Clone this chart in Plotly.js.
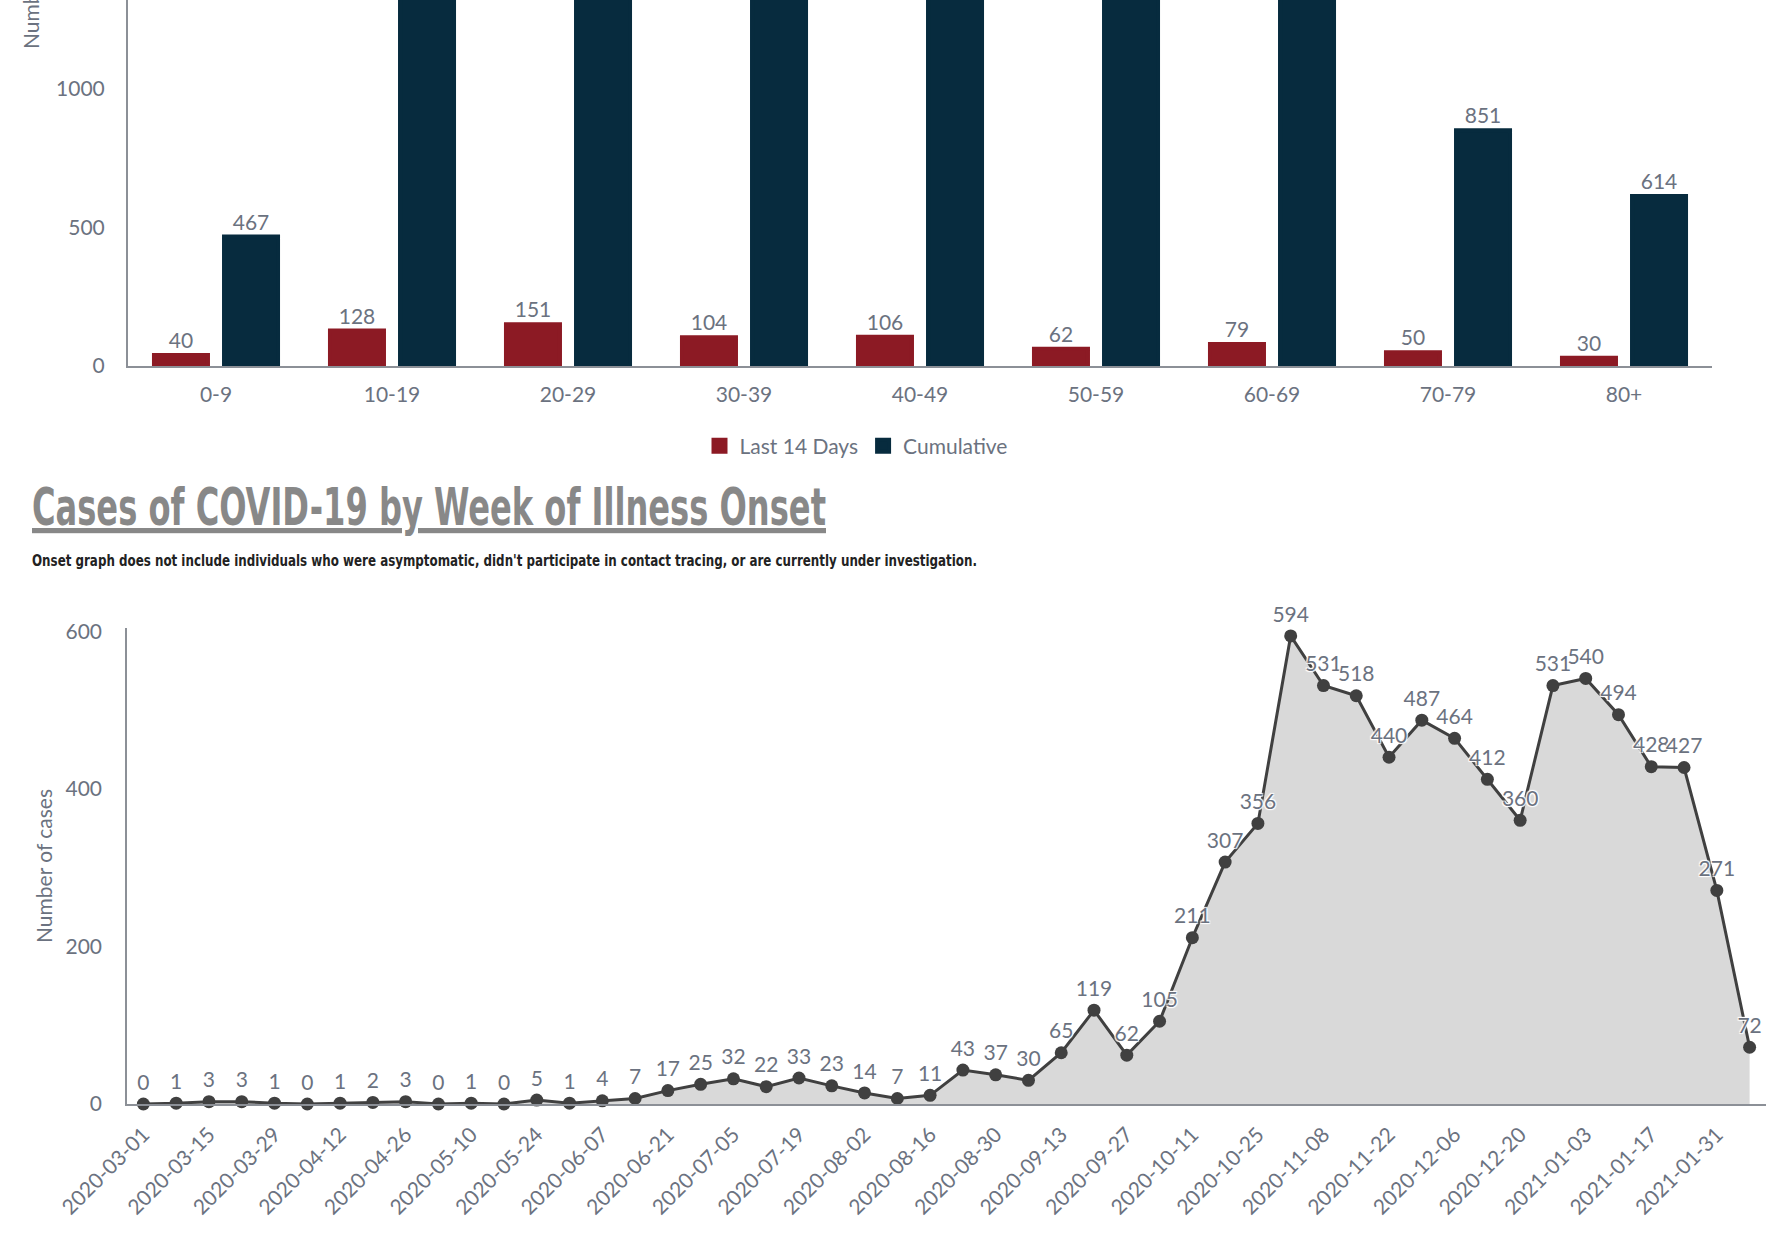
<!DOCTYPE html>
<html>
<head>
<meta charset="utf-8">
<script src="https://cdn.plot.ly/plotly-3.0.1.min.js"></script>
<style>html,body{margin:0;padding:0;background:#fff;overflow:hidden}</style>
</head>
<body>
<div id="chart" style="width:1781px;height:1245px"></div>
<script>
// ---- Data: cases by age group ----
const ageGroups = ['0-9','10-19','20-29','30-39','40-49','50-59','60-69','70-79','80+'];
const last14Days = [40, 128, 151, 104, 106, 62, 79, 50, 30];
// bars for 10-19 ... 60-69 run past the top of the visible area (values estimated)
const cumulative = [467, 1620, 2350, 1740, 1700, 1660, 1390, 851, 614];

// ---- Data: cases by week of illness onset ----
const onsetWeeks = [
  '2020-03-01','2020-03-08','2020-03-15','2020-03-22','2020-03-29','2020-04-05','2020-04-12','2020-04-19',
  '2020-04-26','2020-05-03','2020-05-10','2020-05-17','2020-05-24','2020-05-31','2020-06-07','2020-06-14',
  '2020-06-21','2020-06-28','2020-07-05','2020-07-12','2020-07-19','2020-07-26','2020-08-02','2020-08-09',
  '2020-08-16','2020-08-23','2020-08-30','2020-09-06','2020-09-13','2020-09-20','2020-09-27','2020-10-04',
  '2020-10-11','2020-10-18','2020-10-25','2020-11-01','2020-11-08','2020-11-15','2020-11-22','2020-11-29',
  '2020-12-06','2020-12-13','2020-12-20','2020-12-27','2021-01-03','2021-01-10','2021-01-17','2021-01-24',
  '2021-01-31','2021-02-07'
];
const onsetCases = [
  0, 1, 3, 3, 1, 0, 1, 2, 3, 0, 1, 0, 5, 1, 4, 7, 17, 25, 32, 22, 33, 23, 14, 7, 11,
  43, 37, 30, 65, 119, 62, 105, 211, 307, 356, 594, 531, 518, 440, 487, 464, 412, 360,
  531, 540, 494, 428, 427, 271, 72
];
const onsetTickLabels = [
  '2020-03-01','2020-03-15','2020-03-29','2020-04-12','2020-04-26','2020-05-10','2020-05-24','2020-06-07',
  '2020-06-21','2020-07-05','2020-07-19','2020-08-02','2020-08-16','2020-08-30','2020-09-13','2020-09-27',
  '2020-10-11','2020-10-25','2020-11-08','2020-11-22','2020-12-06','2020-12-20','2021-01-03','2021-01-17',
  '2021-01-31'
];
const barTicks = [0, 500, 1000];
const onsetTicks = [0, 200, 400, 600];

const titleText = 'Cases of COVID-19 by Week of Illness Onset';
const subtitleText = "Onset graph does not include individuals who were asymptomatic, didn't participate in contact tracing, or are currently under investigation.";
const yTitleText = 'Number of cases';
const legendNames = ['Last 14 Days', 'Cumulative'];

// ---- Styling ----
const W = 1781, H = 1245;
const fx = p => p / W;
const fy = p => 1 - p / H;
const GRAY = '#6b7280';
const AXIS = '#8c9097';
const FONT = 'Lato, sans-serif';
const NARROW = '"Liberation Sans Narrow", "DejaVu Sans Condensed", "Arial Narrow", sans-serif';
const BAR_AXIS_TOP = 1321;   // the page is scrolled: the top chart is cut at this value
// labels of bars that run off the top of the page are not visible in the original
const barLabel = v => (v <= BAR_AXIS_TOP ? String(v) : '');

const traces = [
  {
    type: 'bar', name: legendNames[0], x: ageGroups, y: last14Days,
    xaxis: 'x', yaxis: 'y',
    marker: {color: '#8c1a24', line: {color: '#8c1a24', width: 4}},
    text: last14Days.map(barLabel), textposition: 'outside', cliponaxis: true,
    textfont: {family: FONT, size: 21, color: GRAY},
    hoverinfo: 'x+y+name'
  },
  {
    type: 'bar', name: legendNames[1], x: ageGroups, y: cumulative,
    xaxis: 'x', yaxis: 'y',
    marker: {color: '#072b3e', line: {color: '#072b3e', width: 4}},
    text: cumulative.map(barLabel), textposition: 'outside', cliponaxis: true,
    textfont: {family: FONT, size: 21, color: GRAY},
    hoverinfo: 'x+y+name'
  },
  {
    type: 'scatter', mode: 'lines+markers+text', x: onsetWeeks, y: onsetCases,
    xaxis: 'x2', yaxis: 'y2', showlegend: false,
    fill: 'tozeroy', fillcolor: '#d9d9d9',
    line: {color: '#404040', width: 3},
    marker: {color: '#404040', size: 13},
    text: onsetCases.map(String), textposition: 'top center', cliponaxis: false,
    textfont: {family: FONT, size: 21, color: GRAY, shadow: 'auto'}
  }
];

const axisCommon = {
  showline: true, linecolor: AXIS, linewidth: 2, ticks: '', showgrid: false,
  zeroline: false, fixedrange: true, automargin: false,
  tickfont: {family: FONT, size: 21, color: GRAY}
};

const layout = {
  width: W, height: H,
  margin: {l: 0, r: 0, t: 0, b: 0},
  paper_bgcolor: '#ffffff', plot_bgcolor: 'rgba(0,0,0,0)',
  font: {family: FONT, size: 21, color: GRAY},
  barmode: 'group', bargap: 0.204, bargroupgap: 0.229,
  showlegend: true,
  legend: {
    orientation: 'h', x: fx(856), xanchor: 'center', y: fy(446), yanchor: 'middle',
    font: {family: FONT, size: 21, color: GRAY}, bgcolor: 'rgba(0,0,0,0)'
  },
  xaxis: Object.assign({}, axisCommon, {
    domain: [fx(128), fx(1712)], anchor: 'y', type: 'category', range: [-0.5, 8.5],
    ticklabelstandoff: 9
  }),
  yaxis: Object.assign({}, axisCommon, {
    domain: [fy(366), 1], anchor: 'x', range: [0, BAR_AXIS_TOP],
    tickmode: 'array', tickvals: barTicks, ticklabelstandoff: 17
  }),
  xaxis2: Object.assign({}, axisCommon, {
    domain: [fx(127), fx(1766)], anchor: 'y2', type: 'category',
    categoryorder: 'array', categoryarray: onsetWeeks, range: [-0.5, onsetWeeks.length - 0.5],
    tickmode: 'array', tickvals: onsetTickLabels, ticktext: onsetTickLabels,
    tickangle: -45, ticklabelstandoff: 8
  }),
  yaxis2: Object.assign({}, axisCommon, {
    domain: [fy(1104), fy(628)], anchor: 'x2', range: [0, 604],
    tickmode: 'array', tickvals: onsetTicks, ticklabelstandoff: 19, linewidth: 1.5,
    title: {text: yTitleText, standoff: 7, font: {family: FONT, size: 21, color: GRAY}}
  }),
  annotations: [
    {
      text: yTitleText, xref: 'paper', yref: 'paper', x: fx(31), y: fy(-28),
      xanchor: 'center', yanchor: 'middle', textangle: -90, showarrow: false,
      font: {family: FONT, size: 21, color: GRAY}
    },
    {
      text: titleText, xref: 'paper', yref: 'paper', x: fx(30), y: fy(507),
      xanchor: 'left', yanchor: 'middle', showarrow: false,
      font: {family: NARROW, size: 52, color: '#888888', weight: 700, lineposition: 'under'}
    },
    {
      text: subtitleText, xref: 'paper', yref: 'paper', x: fx(30), y: fy(560),
      xanchor: 'left', yanchor: 'middle', showarrow: false,
      font: {family: NARROW, size: 16, color: '#222222', weight: 700}
    }
  ]
};

// condensed headline fonts are not installed: squeeze the real text to the original widths
const squeezeWidths = [[titleText, 794], [subtitleText, 945]];

Plotly.newPlot('chart', traces, layout, {displayModeBar: false}).then(gd => {
  gd.querySelectorAll('.annotation-text').forEach(t => {
    const hit = squeezeWidths.find(s => s[0] === t.textContent);
    if (!hit) return;
    const before = t.getBBox();
    t.setAttribute('textLength', hit[1]);
    t.setAttribute('lengthAdjust', 'spacingAndGlyphs');
    const after = t.getBBox();
    t.setAttribute('transform', 'translate(' + (before.x - after.x) + ',0)');
  });
});
</script>
</body>
</html>
